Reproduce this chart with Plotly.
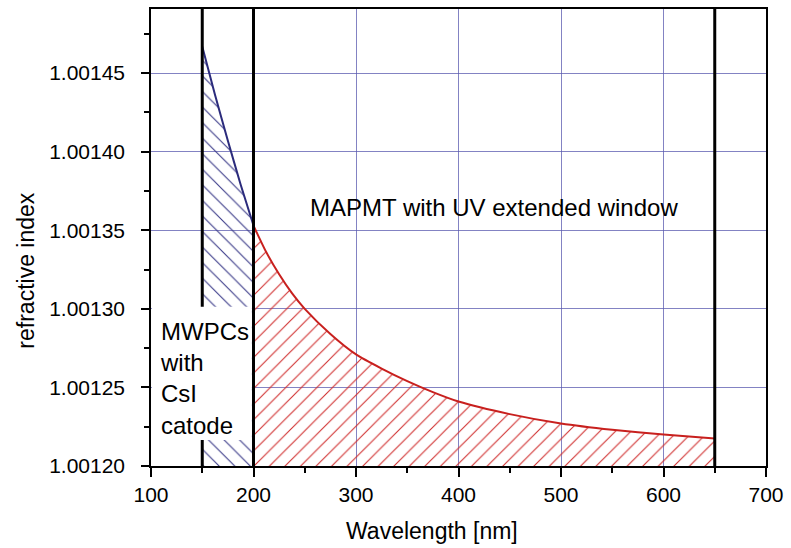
import plotly.graph_objects as go

# Data
wl_blue = [150, 162.5, 175, 187.5, 200]
n_blue = [1.001467, 1.001436, 1.001407, 1.001379, 1.001353]

wl_red = [200, 212.5, 225, 237.5, 250, 275, 300, 325, 350, 375, 400, 450, 500, 550, 600, 650]
n_red = [1.001353, 1.001336, 1.001322, 1.001310, 1.001300, 1.001284, 1.001271, 1.001262,
         1.001254, 1.001247, 1.001241, 1.001233, 1.001227, 1.001223, 1.001220, 1.0012175]

x_ticks = [100, 200, 300, 400, 500, 600, 700]
y_ticks = [1.00120, 1.00125, 1.00130, 1.00135, 1.00140, 1.00145]
y_tick_labels = ["1.00120", "1.00125", "1.00130", "1.00135", "1.00140", "1.00145"]

band_edges = [150, 200, 650]

FONT = "Liberation Sans, Arial, sans-serif"
BLUE = "#2b2b7c"
RED = "#c8201e"

fig = go.Figure()

fig.add_trace(go.Scatter(
    x=wl_blue, y=n_blue, mode="lines",
    line=dict(color=BLUE, width=2, shape="spline", smoothing=0.6),
    fill="tozeroy", fillcolor="rgba(0,0,0,0)",
    fillpattern=dict(shape="\\", size=11, solidity=0.1, fgcolor="#3a3a88", fgopacity=1,
                     bgcolor="rgba(0,0,0,0)"),
    showlegend=False, hoverinfo="skip",
))
fig.add_trace(go.Scatter(
    x=wl_red, y=n_red, mode="lines",
    line=dict(color=RED, width=2, shape="spline", smoothing=0.6),
    fill="tozeroy", fillcolor="rgba(0,0,0,0)",
    fillpattern=dict(shape="/", size=11, solidity=0.1, fgcolor="#d03030", fgopacity=1,
                     bgcolor="rgba(0,0,0,0)"),
    showlegend=False, hoverinfo="skip",
))

shapes = []
shapes.append(dict(type="line", xref="x", yref="paper", x0=band_edges[0], x1=band_edges[0],
                   y0=0, y1=1, line=dict(color="black", width=3), layer="above"))
shapes.append(dict(type="rect", xref="x", yref="y", x0=100.9, x1=198.4,
                   y0=1.0012165, y1=1.0013014, fillcolor="white", line=dict(width=0), layer="above"))
for xe in band_edges[1:]:
    shapes.append(dict(type="line", xref="x", yref="paper", x0=xe, x1=xe,
                       y0=0, y1=1, line=dict(color="black", width=3), layer="above"))

annotations = [
    dict(x=435, y=1.0013648, xref="x", yref="y", text="MAPMT with UV extended window",
         showarrow=False, font=dict(family=FONT, size=24, color="black"),
         xanchor="center", yanchor="middle"),
    dict(x=107.2, y=1.0012558, xref="x", yref="y", text="MWPCs<br>with<br>CsI<br>catode",
         showarrow=False, font=dict(family=FONT, size=24, color="black"),
         xanchor="left", yanchor="middle", align="left"),
    dict(x=0.457, y=-0.1416, xref="paper", yref="paper", text="Wavelength [nm]",
         showarrow=False, font=dict(family=FONT, size=23, color="black"),
         xanchor="center", yanchor="middle"),
    dict(x=-0.2036, y=0.427, xref="paper", yref="paper", text="refractive index",
         showarrow=False, textangle=-90, font=dict(family=FONT, size=23, color="black"),
         xanchor="center", yanchor="middle"),
]

GRID = "rgba(90,90,175,0.75)"

fig.update_layout(
    width=791, height=548,
    margin=dict(l=151, r=21, t=7, b=82),
    paper_bgcolor="white", plot_bgcolor="white",
    font=dict(family=FONT, size=21, color="black"),
    shapes=shapes, annotations=annotations,
    showlegend=False,
)
fig.update_xaxes(
    range=[100, 700], tickvals=x_ticks, ticks="outside", ticklen=9, tickwidth=1.5,
    tickcolor="black", showline=True, linecolor="black", linewidth=1.5, mirror=True,
    showgrid=True, gridcolor=GRID, gridwidth=1, zeroline=False,
    tickfont=dict(family=FONT, size=21, color="black"),
    minor=dict(dtick=50, tick0=100, ticks="outside", ticklen=5, tickwidth=1.5,
               tickcolor="black", showgrid=False),
)
fig.update_yaxes(
    range=[1.0012, 1.0014908], tickvals=y_ticks, ticktext=y_tick_labels,
    ticks="outside", ticklen=8, tickwidth=1.5,
    tickcolor="black", showline=True, linecolor="black", linewidth=1.5, mirror=True,
    showgrid=True, gridcolor=GRID, gridwidth=1, zeroline=False,
    tickfont=dict(family=FONT, size=21, color="black"),
    ticklabelstandoff=12,
    minor=dict(dtick=0.000025, tick0=1.0012, ticks="outside", ticklen=5, tickwidth=1.5,
               tickcolor="black", showgrid=False),
)

fig.write_html("out.html", config={"displayModeBar": False},
               post_script="document.body.style.margin='0';document.body.style.padding='0';")
